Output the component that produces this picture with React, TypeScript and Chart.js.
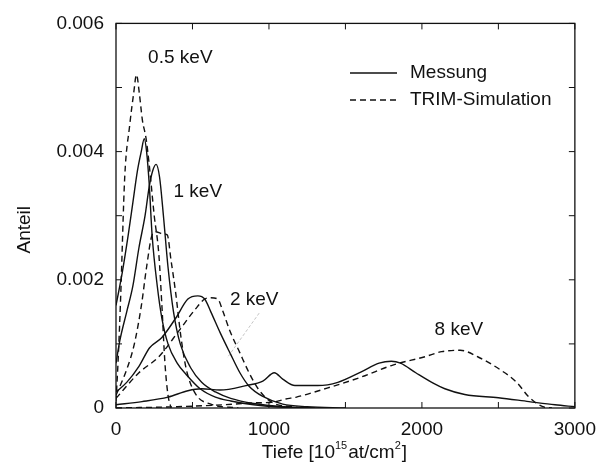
import React, { useEffect, useRef } from "react";
import { Chart, registerables } from "chart.js";

Chart.register(...registerables);

// ---- axis ticks ----
const depthTicks = [0, 1000, 2000, 3000];
const shareTicks = [0, 0.002, 0.004, 0.006];
const depthTickMarks = [0, 500, 1000, 1500, 2000, 2500, 3000];
const shareTickMarks = [0, 0.001, 0.002, 0.003, 0.004, 0.005, 0.006];

// ---- Messung (solid) ----
const mess05Depth = [0, 40, 80, 110, 140, 165, 185, 200, 217, 236, 270, 300, 340, 400, 460, 550, 650, 750, 900, 1100, 1300];
const mess05Share = [0.0016, 0.0021, 0.0027, 0.0032, 0.0037, 0.004, 0.0042, 0.004, 0.0035, 0.0027, 0.0019, 0.0014, 0.001, 0.0007, 0.00052, 0.0003, 0.00017, 0.00011, 0.00005, 0.00001, 0];

const mess1Depth = [0, 25, 70, 110, 150, 190, 217, 240, 262, 285, 310, 340, 376, 420, 490, 560, 650, 750, 900, 1100, 1300];
const mess1Share = [0.0007, 0.00105, 0.0015, 0.0019, 0.0025, 0.003, 0.00345, 0.0037, 0.0038, 0.0036, 0.003, 0.0022, 0.0015, 0.001, 0.00062, 0.0004, 0.00025, 0.00015, 0.00007, 0.00002, 0];

const mess2Depth = [0, 70, 150, 220, 300, 390, 470, 535, 580, 620, 680, 745, 810, 870, 960, 1090, 1250, 1500];
const mess2Share = [0.00025, 0.0004, 0.00065, 0.00094, 0.0011, 0.0014, 0.0017, 0.00175, 0.0017, 0.0015, 0.00118, 0.00086, 0.00055, 0.00034, 0.00018, 0.00006, 0.00002, 0];

const mess8Depth = [0, 170, 340, 470, 560, 680, 850, 960, 1035, 1090, 1170, 1320, 1450, 1600, 1720, 1800, 1860, 1960, 2080, 2150, 2280, 2500, 2700, 2870, 3000];
const mess8Share = [0.00005, 0.0001, 0.00017, 0.00027, 0.0003, 0.00028, 0.00035, 0.00042, 0.00055, 0.00045, 0.00035, 0.00035, 0.0004, 0.00056, 0.0007, 0.00073, 0.0007, 0.00055, 0.00038, 0.0003, 0.00021, 0.00016, 0.0001, 0.00005, 0.00002];

// ---- TRIM-Simulation (dashed) ----
const sim05Depth = [0, 15, 30, 57, 89, 115, 134, 153, 172, 197, 217, 250, 280, 300, 320, 340, 360];
const sim05Share = [0.0001, 0.0008, 0.0017, 0.0036, 0.0044, 0.0049, 0.0052, 0.0049, 0.0045, 0.0042, 0.0038, 0.003, 0.0024, 0.0016, 0.0007, 0.0002, 0];

const sim1Depth = [0, 70, 120, 166, 200, 236, 260, 300, 335, 360, 390, 425, 460, 520, 620, 800];
const sim1Share = [0.0002, 0.0006, 0.001, 0.0016, 0.0022, 0.0027, 0.00275, 0.00272, 0.0027, 0.0023, 0.0018, 0.0011, 0.0006, 0.00022, 0.00006, 0];

const sim2Depth = [0, 150, 280, 410, 515, 580, 620, 665, 700, 745, 810, 870, 935, 1025, 1150, 1300];
const sim2Share = [0.00015, 0.00055, 0.0008, 0.0012, 0.00153, 0.0017, 0.00172, 0.0017, 0.0015, 0.0012, 0.00086, 0.00055, 0.00028, 0.00008, 0.00002, 0];

const sim8Depth = [0, 400, 700, 900, 1025, 1110, 1180, 1380, 1600, 1810, 2020, 2130, 2250, 2380, 2510, 2620, 2700, 2790, 2850];
const sim8Share = [0, 0.00002, 0.00005, 0.00008, 0.00009, 0.00014, 0.00017, 0.00031, 0.00048, 0.00067, 0.0008, 0.00088, 0.0009, 0.00078, 0.0006, 0.0004, 0.00017, 0.00002, 0];

// ---- annotations ----
const energyLabels = ["0.5 keV", "1 keV", "2 keV", "8 keV"];
const labelDepth = [210, 376, 745, 2083];
const labelShare = [0.00547, 0.00338, 0.00169, 0.00122];
const legendLabels = ["Messung", "TRIM-Simulation"];
const leaderDepth = [936, 726];
const leaderShare = [0.00148, 0.00078];

const FONT = "'Liberation Sans', Arial, Helvetica, sans-serif";
const INK = "#111";

function pts(xs: number[], ys: number[]) {
  return xs.map((x, i) => ({ x, y: ys[i] }));
}

const decorPlugin = {
  id: "decor",
  afterDatasetsDraw(chart: any) {
    const ctx = chart.ctx as CanvasRenderingContext2D;
    const { left, right, top, bottom } = chart.chartArea;
    const xs = chart.scales.x;
    const ys = chart.scales.y;
    ctx.save();

    // faint leader line near "2 keV"
    ctx.strokeStyle = "#c4c4c4";
    ctx.lineWidth = 1;
    ctx.setLineDash([3, 2]);
    ctx.beginPath();
    ctx.moveTo(xs.getPixelForValue(leaderDepth[0]), ys.getPixelForValue(leaderShare[0]));
    ctx.lineTo(xs.getPixelForValue(leaderDepth[1]), ys.getPixelForValue(leaderShare[1]));
    ctx.stroke();
    ctx.setLineDash([]);

    // frame
    ctx.strokeStyle = INK;
    ctx.lineWidth = 1.3;
    ctx.strokeRect(left, top, right - left, bottom - top);

    // inward ticks
    const tl = 6;
    ctx.lineWidth = 1;
    ctx.beginPath();
    depthTickMarks.forEach((v) => {
      const px = xs.getPixelForValue(v);
      ctx.moveTo(px, bottom);
      ctx.lineTo(px, bottom - tl);
      ctx.moveTo(px, top);
      ctx.lineTo(px, top + tl);
    });
    shareTickMarks.forEach((v) => {
      const py = ys.getPixelForValue(v);
      ctx.moveTo(left, py);
      ctx.lineTo(left + tl, py);
      ctx.moveTo(right, py);
      ctx.lineTo(right - tl, py);
    });
    ctx.stroke();

    // energy labels
    ctx.fillStyle = INK;
    ctx.font = `19px ${FONT}`;
    ctx.textAlign = "left";
    ctx.textBaseline = "middle";
    energyLabels.forEach((t, i) => {
      ctx.fillText(t, xs.getPixelForValue(labelDepth[i]), ys.getPixelForValue(labelShare[i]));
    });

    // legend
    const lx0 = 350, lx1 = 397, tx = 410;
    const rowY = [73, 100];
    ctx.lineWidth = 1.4;
    ctx.strokeStyle = INK;
    legendLabels.forEach((t, i) => {
      ctx.setLineDash(i === 0 ? [] : [6, 4]);
      ctx.beginPath();
      ctx.moveTo(lx0, rowY[i]);
      ctx.lineTo(lx1, rowY[i]);
      ctx.stroke();
      ctx.fillText(t, tx, rowY[i]);
    });
    ctx.setLineDash([]);

    // y title
    ctx.save();
    ctx.translate(25, (top + bottom) / 2 + 14);
    ctx.rotate(-Math.PI / 2);
    ctx.textAlign = "center";
    ctx.textBaseline = "middle";
    ctx.fillText("Anteil", 0, 0);
    ctx.restore();

    // x title with superscripts
    const parts: [string, boolean][] = [
      ["Tiefe [10", false],
      ["15", true],
      ["at/cm", false],
      ["2", true],
      ["]", false],
    ];
    const bigF = `19px ${FONT}`;
    const supF = `11px ${FONT}`;
    let total = 0;
    parts.forEach(([s, sup]) => {
      ctx.font = sup ? supF : bigF;
      total += ctx.measureText(s).width + (sup ? 1 : 0);
    });
    let cx = (left + right) / 2 - 11 - total / 2;
    const base = 458;
    ctx.textAlign = "left";
    ctx.textBaseline = "alphabetic";
    parts.forEach(([s, sup]) => {
      ctx.font = sup ? supF : bigF;
      ctx.fillText(s, cx, sup ? base - 9 : base);
      cx += ctx.measureText(s).width + (sup ? 1 : 0);
    });

    ctx.restore();
  },
};

export default function App() {
  const ref = useRef<HTMLCanvasElement | null>(null);

  useEffect(() => {
    if (!ref.current) return;
    const solid = { borderColor: INK, borderWidth: 1.4, pointRadius: 0, fill: false, cubicInterpolationMode: "monotone" as const };
    const dashed = { ...solid, borderDash: [6, 4] };
    const chart = new Chart(ref.current, {
      type: "line",
      data: {
        datasets: [
          { label: "Messung 0.5 keV", data: pts(mess05Depth, mess05Share), ...solid },
          { label: "Messung 1 keV", data: pts(mess1Depth, mess1Share), ...solid },
          { label: "Messung 2 keV", data: pts(mess2Depth, mess2Share), ...solid },
          { label: "Messung 8 keV", data: pts(mess8Depth, mess8Share), ...solid },
          { label: "TRIM 0.5 keV", data: pts(sim05Depth, sim05Share), ...dashed },
          { label: "TRIM 1 keV", data: pts(sim1Depth, sim1Share), ...dashed },
          { label: "TRIM 2 keV", data: pts(sim2Depth, sim2Share), ...dashed },
          { label: "TRIM 8 keV", data: pts(sim8Depth, sim8Share), ...dashed },
        ],
      },
      options: {
        animation: false,
        responsive: false,
        maintainAspectRatio: false,
        layout: { padding: { top: 23, right: 19, left: 0, bottom: 0 } },
        plugins: { legend: { display: false }, tooltip: { enabled: false } },
        scales: {
          x: {
            type: "linear",
            min: 0,
            max: 3000,
            afterFit: (s: any) => { s.height = 58; },
            afterBuildTicks: (s: any) => { s.ticks = depthTicks.map((v) => ({ value: v })); },
            grid: { display: false, drawTicks: false },
            border: { display: false },
            ticks: {
              padding: 10,
              color: INK,
              font: { family: FONT, size: 19 },
              maxRotation: 0,
              callback: (v: any) => String(v),
            },
          },
          y: {
            type: "linear",
            min: 0,
            max: 0.006,
            afterFit: (s: any) => { s.width = 116; },
            afterBuildTicks: (s: any) => { s.ticks = shareTicks.map((v) => ({ value: v })); },
            grid: { display: false, drawTicks: false },
            border: { display: false },
            ticks: {
              padding: 12,
              color: INK,
              font: { family: FONT, size: 19 },
              callback: (v: any) => (Number(v) === 0 ? "0" : Number(v).toFixed(3)),
            },
          },
        },
      },
      plugins: [decorPlugin],
    });
    return () => chart.destroy();
  }, []);

  return (
    <div style={{ position: "fixed", left: 0, top: 0, width: 606, height: 466, background: "#fff" }}>
      <canvas ref={ref} width={606} height={466} style={{ width: 606, height: 466 }} />
    </div>
  );
}
